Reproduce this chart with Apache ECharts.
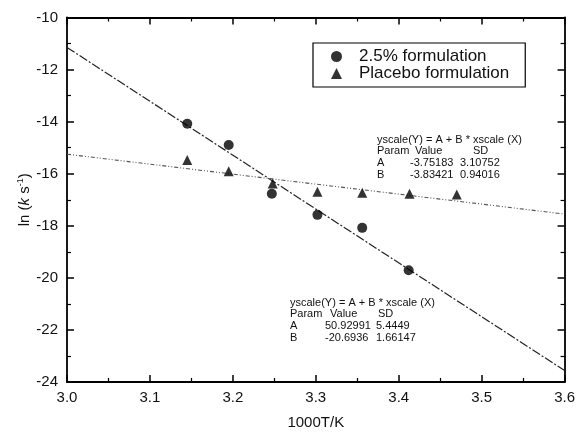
<!DOCTYPE html>
<html>
<head>
<meta charset="utf-8">
<script src="https://cdn.jsdelivr.net/npm/echarts@6/dist/echarts.min.js"></script>
<style>
html,body{margin:0;padding:0;background:#fff;}
#c{width:578px;height:435px;}
</style>
</head>
<body>
<div id="c"></div>
<script>
// ---- data ----
const seriesNames = ['2.5% formulation', 'Placebo formulation'];
const circleX = [3.145, 3.195, 3.247, 3.302, 3.356, 3.412];
const circleY = [-14.08, -14.90, -16.77, -17.58, -18.08, -19.71];
const triX = [3.145, 3.195, 3.248, 3.302, 3.356, 3.413, 3.470];
const triY = [-15.47, -15.91, -16.38, -16.69, -16.73, -16.77, -16.80];
// fitted lines (end points)
const fit1X = [3.0, 3.6];
const fit1Y = [-11.15, -23.56];
const fit2X = [3.0, 3.6];
const fit2Y = [-15.25, -17.55];
// fit tables
const fitTitle = 'yscale(Y) = A + B * xscale (X)';
const fitHead = ['Param', 'Value', 'SD'];
const placeboFit = [['A', '-3.75183', '3.10752'], ['B', '-3.83421', '0.94016']];
const activeFit = [['A', '50.92991', '5.4449'], ['B', '-20.6936', '1.66147']];

const pair = (xs, ys) => xs.map((x, i) => [x, ys[i]]);
const FONT = '"Liberation Sans", Arial, Helvetica, sans-serif';

function tableGraphics(x0, y0, cols, rows) {
  const els = [];
  const st = (t, x, y) => ({
    type: 'text', left: x, top: y,
    style: { text: t, font: '11px ' + FONT, fill: '#111' }
  });
  els.push(st(fitTitle, x0, y0));
  const allRows = [fitHead].concat(rows);
  allRows.forEach((r, ri) => {
    r.forEach((cell, ci) => {
      els.push(st(cell, x0 + cols[ri === 0 ? 0 : 1][ci], y0 + 11.8 * (ri + 1)));
    });
  });
  return els;
}

const chart = echarts.init(document.getElementById('c'), null, { renderer: 'canvas' });
const axisCommon = {
  axisLine: { show: true, lineStyle: { color: '#000', width: 1.8 } },
  axisTick: { show: true, inside: true, length: 7, lineStyle: { color: '#000', width: 1.5 } },
  minorTick: { show: true, splitNumber: 2, length: 4, lineStyle: { color: '#000', width: 1.2 } },
  splitLine: { show: false }
};

chart.setOption({
  animation: false,
  backgroundColor: '#fff',
  textStyle: { fontFamily: FONT },
  grid: { left: 67, right: 11, top: 17.5, bottom: 48.5, containLabel: false },
  legend: {
    orient: 'vertical',
    left: 313, top: 43,
    padding: [5, 16, 5, 18],
    itemGap: 0,
    itemWidth: 11, itemHeight: 11,
    borderColor: '#000', borderWidth: 1.2,
    textStyle: { fontSize: 17, color: '#111', lineHeight: 15, padding: [0, 0, 0, 12], fontFamily: FONT },
    data: [
      { name: seriesNames[0], icon: 'circle' },
      { name: seriesNames[1], icon: 'triangle' }
    ]
  },
  xAxis: [
    Object.assign({
      type: 'value', min: 3.0, max: 3.6, interval: 0.1, position: 'bottom',
      name: '1000T/K', nameLocation: 'middle', nameGap: 33,
      nameTextStyle: { fontSize: 15, color: '#111', fontFamily: FONT },
      axisLabel: { fontSize: 15, color: '#111', margin: 8, formatter: v => v.toFixed(1), fontFamily: FONT }
    }, axisCommon),
    Object.assign({
      type: 'value', min: 3.0, max: 3.6, interval: 0.1, position: 'top',
      axisLabel: { show: false }
    }, axisCommon)
  ],
  yAxis: [
    Object.assign({
      type: 'value', min: -24, max: -10, interval: 2, position: 'left',
      name: '{a|ln (}{i|k}{a| s}{s|-1}{a|)}', nameLocation: 'middle', nameGap: 34, nameRotate: 90,
      nameMoveOverlap: false,
      nameTextStyle: {
        fontFamily: FONT,
        rich: {
          a: { fontSize: 15, color: '#111', fontFamily: FONT },
          i: { fontSize: 15, color: '#111', fontStyle: 'italic', fontFamily: FONT },
          s: { fontSize: 9, color: '#111', verticalAlign: 'top', padding: [0, 0, 8, 0], fontFamily: FONT }
        }
      },
      axisLabel: { fontSize: 15, color: '#111', margin: 9, fontFamily: FONT }
    }, axisCommon),
    Object.assign({
      type: 'value', min: -24, max: -10, interval: 2, position: 'right',
      axisLabel: { show: false }
    }, axisCommon)
  ],
  series: [
    {
      name: seriesNames[0], type: 'scatter', symbol: 'circle', symbolSize: 10,
      itemStyle: { color: '#000' }, data: pair(circleX, circleY), z: 5
    },
    {
      name: seriesNames[1], type: 'scatter', symbol: 'triangle', symbolSize: [10, 10],
      itemStyle: { color: '#000' }, data: pair(triX, triY), z: 5
    },
    {
      name: 'fit1', type: 'line', data: pair(fit1X, fit1Y), showSymbol: false, symbol: 'none',
      lineStyle: { color: '#222', width: 1.2, type: [9, 2, 2, 2] }, z: 3
    },
    {
      name: 'fit2', type: 'line', data: pair(fit2X, fit2Y), showSymbol: false, symbol: 'none',
      lineStyle: { color: '#555', width: 1.1, type: [4, 2, 1, 2, 1, 2] }, z: 3
    }
  ],
  graphic: tableGraphics(377, 134, [[0, 38, 96], [0, 33, 83]], placeboFit)
    .concat(tableGraphics(290, 297, [[0, 40, 88], [0, 35, 86]], activeFit))
});
</script>
</body>
</html>
